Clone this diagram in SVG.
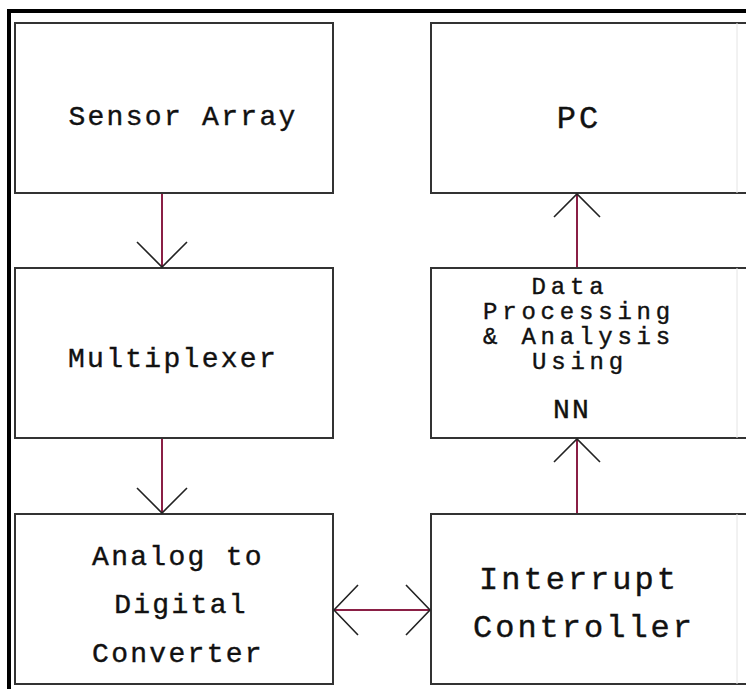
<svg xmlns="http://www.w3.org/2000/svg" width="746" height="689" viewBox="0 0 746 689">
<style>
.box{fill:#fff;stroke:#333;stroke-width:2}
.edge{fill:none;stroke:#e4e4e4;stroke-width:1}
.t{font-family:"Liberation Mono","Courier New",monospace;font-size:28px;letter-spacing:2.3px;fill:#111;stroke:#111;stroke-width:0.4;text-anchor:middle}
.big{font-size:32px;letter-spacing:3px}
.sm{font-size:24px;letter-spacing:4.8px}
.line{stroke:#8a1f45;stroke-width:2;fill:none}
.head{stroke:#222;stroke-width:1.6;fill:none}
</style>
<rect x="0" y="0" width="746" height="689" fill="#fff"/>
<path d="M9 689 V11 H746" fill="none" stroke="#000" stroke-width="4"/>
<g id="sensor-array">
<rect class="box" x="15" y="23" width="318" height="170"/>
<text class="t" x="183" y="125">Sensor Array</text>
</g>
<g id="multiplexer">
<rect class="box" x="15" y="268" width="318" height="170"/>
<text class="t" x="173" y="367">Multiplexer</text>
</g>
<g id="adc">
<rect class="box" x="15" y="514" width="318" height="170"/>
<text class="t" x="178" y="565">Analog to</text>
<text class="t" x="181" y="613">Digital</text>
<text class="t" x="178" y="662">Converter</text>
</g>
<g id="pc">
<path class="box" d="M760 23 H431 V193 H760"/>
<line class="edge" x1="737" y1="23" x2="737" y2="193"/>
<text class="t big" x="579" y="128">PC</text>
</g>
<g id="data-processing">
<path class="box" d="M760 268 H431 V438 H760"/>
<line class="edge" x1="737" y1="268" x2="737" y2="438"/>
<text class="t sm" x="570" y="294">Data</text>
<text class="t sm" x="579" y="319">Processing</text>
<text class="t sm" x="579" y="344">&amp; Analysis</text>
<text class="t sm" x="580" y="369">Using</text>
<text class="t" x="572" y="418">NN</text>
</g>
<g id="interrupt-controller">
<path class="box" d="M760 514 H431 V684 H760"/>
<line class="edge" x1="737" y1="514" x2="737" y2="684"/>
<text class="t big" x="579" y="589">Interrupt</text>
<text class="t big" x="584" y="637">Controller</text>
</g>
<g id="connectors">
<line class="line" x1="162" y1="194" x2="162" y2="267"/>
<path class="head" d="M137 242 L162 267 L187 242"/>
<line class="line" x1="162" y1="439" x2="162" y2="513"/>
<path class="head" d="M137 488 L162 513 L187 488"/>
<line class="line" x1="577" y1="513" x2="577" y2="439"/>
<path class="head" d="M554 462 L577 439 L600 462"/>
<line class="line" x1="577" y1="267" x2="577" y2="194"/>
<path class="head" d="M554 217 L577 194 L600 217"/>
<line class="line" x1="334" y1="610" x2="430" y2="610"/>
<path class="head" d="M358 585 L334 610 L358 635"/>
<path class="head" d="M406 585 L430 610 L406 635"/>
</g>
</svg>
